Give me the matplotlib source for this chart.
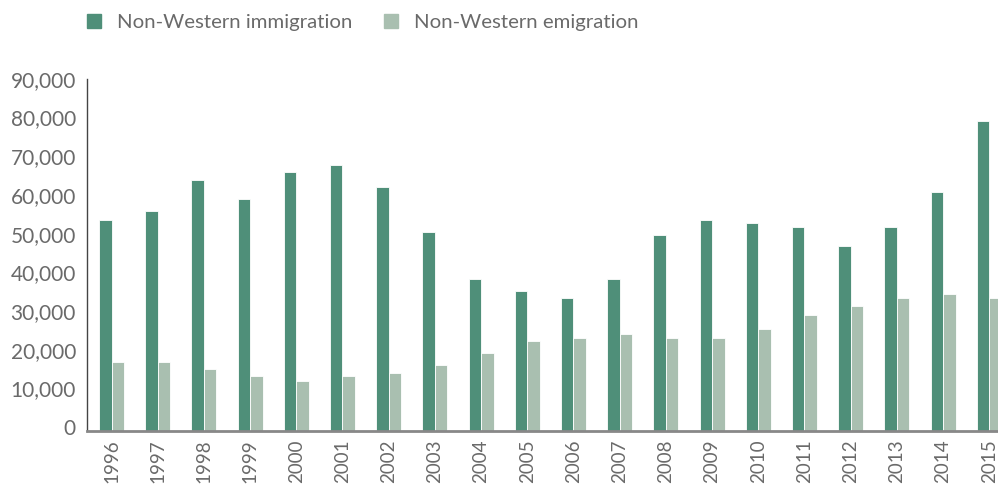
import numpy as np
import matplotlib.pyplot as plt
import matplotlib.transforms as mtransforms
from matplotlib.ticker import FuncFormatter
from matplotlib.patches import Rectangle

# Data
years = [str(y) for y in range(1996, 2016)]
immigration = [54600, 56900, 64900, 60000, 66900, 68700, 63000, 51500, 39200, 36200,
               34300, 39200, 50700, 54600, 53800, 52700, 47700, 52700, 61800, 80200]
emigration = [17800, 17800, 16000, 14100, 12900, 14100, 14900, 17100, 20200, 23300,
              24000, 25100, 24000, 24000, 26300, 30100, 32400, 34300, 35400, 34300]

c_imm = '#4f8f79'
c_emi = '#a9bfb0'
txt = '#6a6a6a'

plt.rcParams['font.family'] = ['Lato', 'DejaVu Sans']

fig = plt.figure(figsize=(9.98, 4.86), dpi=100)
ax = fig.add_axes([0.0872, 0.1132, 0.9128, 0.7242])

x = np.arange(len(years))
w = 0.27
ax.bar(x - w/2, immigration, w, color=c_imm, edgecolor='white', linewidth=0.6)
ax.bar(x + w/2, emigration, w, color=c_emi, edgecolor='white', linewidth=0.6)

ax.set_xlim(-0.53, 19.19)
ax.set_ylim(0, 91000)
ax.set_yticks(np.arange(0, 90001, 10000))
ax.yaxis.set_major_formatter(FuncFormatter(lambda v, p: f'{int(v):,}'))
ax.set_xticks(x)
ax.set_xticklabels(years, rotation=90)
ax.tick_params(axis='y', length=0, pad=8, labelsize=15, labelcolor=txt)
ax.tick_params(axis='x', length=0, pad=6, labelsize=13.5, labelcolor=txt)

# y labels sit a few pixels above their ticks in the original
shift = mtransforms.ScaledTranslation(0, 4 / 100, fig.dpi_scale_trans)
for lab in ax.get_yticklabels():
    lab.set_transform(lab.get_transform() + shift)

for s in ['top', 'right']:
    ax.spines[s].set_visible(False)
ax.spines['left'].set_color('#444444')
ax.spines['left'].set_linewidth(1)
ax.spines['bottom'].set_color('#888888')
ax.spines['bottom'].set_linewidth(2)

# legend drawn in figure pixels
labels = ['Non-Western immigration', 'Non-Western emigration']
colors = [c_imm, c_emi]
box_x = [87, 384]
for bx, lab, col in zip(box_x, labels, colors):
    fig.patches.append(Rectangle((bx / 998, 1 - 28 / 486), 14 / 998, 14 / 486,
                                 transform=fig.transFigure, color=col))
    fig.text((bx + 30) / 998, 1 - 28 / 486, lab, fontsize=14.7, color=txt,
             va='baseline', ha='left')

fig.savefig('out.png', dpi=100)
